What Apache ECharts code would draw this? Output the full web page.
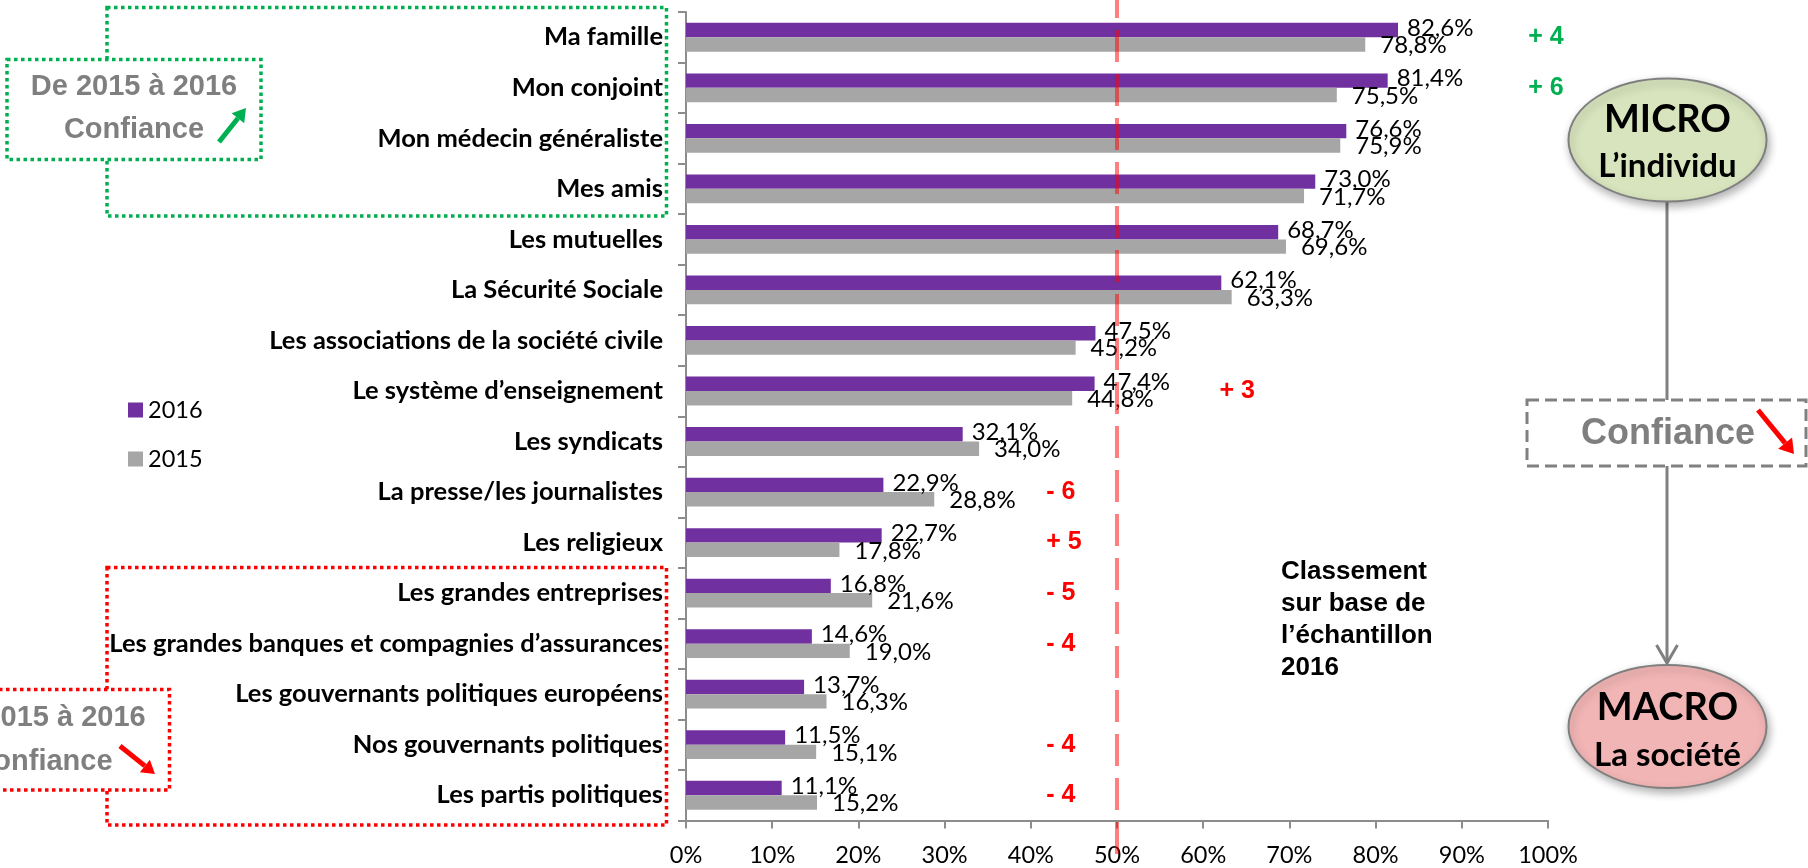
<!DOCTYPE html>
<html>
<head>
<meta charset="utf-8">
<script src="https://cdn.jsdelivr.net/npm/echarts@6/dist/echarts.min.js"></script>
<style>
  html, body { margin: 0; padding: 0; background: #ffffff; }
  #chart { width: 1808px; height: 868px; }
</style>
</head>
<body>
<div id="chart"></div>
<script>
// Confidence in institutions, 2016 vs 2015 (share of respondents, %)
const categories = [
  'Ma famille',
  'Mon conjoint',
  'Mon médecin généraliste',
  'Mes amis',
  'Les mutuelles',
  'La Sécurité Sociale',
  'Les associations de la société civile',
  'Le système d’enseignement',
  'Les syndicats',
  'La presse/les journalistes',
  'Les religieux',
  'Les grandes entreprises',
  'Les grandes banques et compagnies d’assurances',
  'Les gouvernants politiques européens',
  'Nos gouvernants politiques',
  'Les partis politiques'
];
const values2016 = [82.6, 81.4, 76.6, 73.0, 68.7, 62.1, 47.5, 47.4, 32.1, 22.9, 22.7, 16.8, 14.6, 13.7, 11.5, 11.1];
const values2015 = [78.8, 75.5, 75.9, 71.7, 69.6, 63.3, 45.2, 44.8, 34.0, 28.8, 17.8, 21.6, 19.0, 16.3, 15.1, 15.2];
// Change in points between the two waves, shown next to selected rows
const deltaLabels = ['+ 4', '+ 6', '', '', '', '', '', '+ 3', '', '- 6', '+ 5', '- 5', '- 4', '', '- 4', '- 4'];
const seriesNames = ['2016', '2015'];
const axisMax = 100;
const axisStep = 10;
const thresholdValue = 50;

const PURPLE = '#7030a0';
const GREY = '#a6a6a6';
const GREEN = '#00b050';
const RED = '#ff0000';
const LABEL_FONT = 'Lato, "Open Sans", sans-serif';
const ARIAL = '"Liberation Sans", Arial, sans-serif';

const fmt = v => v.toFixed(1).replace('.', ',') + '%';

const chart = echarts.init(document.getElementById('chart'), null, { renderer: 'canvas' });

const option = {
  animation: false,
  backgroundColor: '#ffffff',
  grid: { left: 686, right: 260, top: 12, height: 808.5, containLabel: false },
  legend: {
    orient: 'vertical',
    left: 123,
    top: 393,
    itemWidth: 15,
    itemHeight: 15,
    itemGap: 25,
    icon: 'rect',
    textStyle: { fontFamily: LABEL_FONT, fontSize: 23.5, color: '#000' },
    data: seriesNames
  },
  xAxis: {
    type: 'value',
    min: 0,
    max: axisMax,
    interval: axisStep,
    axisLine: { show: true, lineStyle: { color: '#8c8c8c', width: 2 } },
    axisTick: { show: true, length: 8, lineStyle: { color: '#8c8c8c', width: 2 } },
    splitLine: { show: false },
    axisLabel: {
      formatter: '{value}%',
      fontFamily: LABEL_FONT,
      fontSize: 23.5,
      color: '#000',
      margin: 23
    }
  },
  yAxis: {
    type: 'category',
    inverse: true,
    data: categories,
    axisLine: { show: true, lineStyle: { color: '#8c8c8c', width: 2 } },
    axisTick: { show: true, length: 8, lineStyle: { color: '#8c8c8c', width: 2 } },
    axisLabel: {
      fontFamily: LABEL_FONT,
      fontWeight: 'bold',
      fontSize: 25.5,
      color: '#000',
      margin: 23
    }
  },
  series: [
    {
      name: seriesNames[0],
      type: 'bar',
      data: values2016,
      barGap: '0%',
      barCategoryGap: '43%',
      itemStyle: { color: PURPLE },
      label: {
        show: true,
        position: 'right',
        distance: 9,
        offset: [0, -2],
        formatter: p => fmt(p.value),
        fontFamily: LABEL_FONT,
        fontSize: 24,
        color: '#000'
      }
    },
    {
      name: seriesNames[1],
      type: 'bar',
      data: values2015,
      barGap: '0%',
      barCategoryGap: '43%',
      itemStyle: { color: GREY },
      label: {
        show: true,
        position: 'right',
        distance: 15,
        offset: [0, 1],
        formatter: p => fmt(p.value),
        fontFamily: LABEL_FONT,
        fontSize: 24,
        color: '#000'
      }
    }
  ]
};

chart.setOption(option);

// ---------- decorations drawn on top of the chart ----------
function arrow(x1, y1, x2, y2, color, width, headLen, headHalf, z) {
  const a = Math.atan2(y2 - y1, x2 - x1);
  const bx = x2 - headLen * Math.cos(a);
  const by = y2 - headLen * Math.sin(a);
  const px = -Math.sin(a), py = Math.cos(a);
  return [
    { type: 'line', z: z, shape: { x1: x1, y1: y1, x2: bx, y2: by }, style: { stroke: color, lineWidth: width } },
    { type: 'polygon', z: z, shape: { points: [[x2, y2], [bx + px * headHalf, by + py * headHalf], [bx - px * headHalf, by - py * headHalf]] }, style: { fill: color } }
  ];
}

function text(x, y, str, font, color, align, z) {
  return {
    type: 'text', x: x, y: y, z: z || 20,
    style: { text: str, font: font, fill: color, align: align || 'center', verticalAlign: 'middle' }
  };
}

const dotted = (color) => ({ fill: 'none', stroke: color, lineWidth: 3.5, lineDash: [3.5, 3.5] });

const g = [];

// group boxes around the top and bottom of the ranking
g.push({ type: 'rect', z: 5, shape: { x: 107, y: 7.5, width: 559.5, height: 208.5 }, style: dotted(GREEN) });
g.push({ type: 'rect', z: 6, shape: { x: 7, y: 59.5, width: 254, height: 100 }, style: Object.assign(dotted(GREEN), { fill: '#ffffff' }) });
g.push(text(134, 87, 'De 2015 à 2016', 'bold 29px ' + ARIAL, '#7f7f7f', 'center'));
g.push(text(134, 130, 'Confiance', 'bold 29px ' + ARIAL, '#7f7f7f', 'center'));
arrow(219, 142, 246, 108, GREEN, 5, 13, 8, 20).forEach(e => g.push(e));

g.push({ type: 'rect', z: 5, shape: { x: 107, y: 567.5, width: 559.5, height: 257.5 }, style: dotted(RED) });
g.push({ type: 'rect', z: 6, shape: { x: -85, y: 689.5, width: 254.5, height: 100.5 }, style: Object.assign(dotted(RED), { fill: '#ffffff' }) });
g.push(text(42.5, 718, 'De 2015 à 2016', 'bold 29px ' + ARIAL, '#7f7f7f', 'center'));
g.push(text(42.5, 762, 'Confiance', 'bold 29px ' + ARIAL, '#7f7f7f', 'center'));
arrow(120, 746, 155, 774, RED, 5, 13, 8, 20).forEach(e => g.push(e));

// micro / macro diagram on the right
const shadow = { shadowBlur: 8, shadowOffsetX: 2, shadowOffsetY: 4, shadowColor: 'rgba(0,0,0,0.3)' };
g.push({ type: 'line', z: 5, shape: { x1: 1667, y1: 201, x2: 1667, y2: 400 }, style: { stroke: '#808080', lineWidth: 3 } });
g.push({ type: 'line', z: 5, shape: { x1: 1667, y1: 466, x2: 1667, y2: 662 }, style: { stroke: '#808080', lineWidth: 3 } });
g.push({ type: 'polyline', z: 5, shape: { points: [[1656.5, 645], [1667, 663], [1677.5, 645]] }, style: { stroke: '#808080', lineWidth: 3, fill: 'none' } });

g.push({ type: 'ellipse', z: 8, shape: { cx: 1667.5, cy: 140, rx: 99, ry: 61.5 }, style: Object.assign({ fill: '#d7e4bd', stroke: '#7f7f7f', lineWidth: 2 }, shadow) });
g.push(text(1667.5, 120, 'MICRO', 'bold 38px ' + LABEL_FONT, '#000', 'center'));
g.push(text(1667.5, 166, 'L’individu', 'bold 33px ' + LABEL_FONT, '#000', 'center'));

g.push({ type: 'rect', z: 8, shape: { x: 1527, y: 400, width: 279, height: 66 }, style: { fill: '#ffffff', stroke: '#808080', lineWidth: 3, lineDash: [12, 6] } });
g.push(text(1668, 434, 'Confiance', 'bold 36px ' + ARIAL, '#7f7f7f', 'center'));
arrow(1758, 410, 1794, 454, RED, 5, 14, 9, 20).forEach(e => g.push(e));

g.push({ type: 'ellipse', z: 8, shape: { cx: 1667.5, cy: 726.5, rx: 99, ry: 61.5 }, style: Object.assign({ fill: '#f2b5b5', stroke: '#7f7f7f', lineWidth: 2 }, shadow) });
g.push(text(1667.5, 708, 'MACRO', 'bold 38px ' + LABEL_FONT, '#000', 'center'));
g.push(text(1667.5, 755, 'La société', 'bold 33px ' + LABEL_FONT, '#000', 'center'));

// note on the ranking basis
g.push({
  type: 'text', x: 1281, y: 556, z: 20,
  style: {
    text: 'Classement\nsur base de\nl’échantillon\n2016',
    font: 'bold 26px ' + ARIAL, fill: '#000', lineHeight: 32, align: 'left', verticalAlign: 'top'
  }
});

// 50 % threshold line, crossing the whole plot height
const xMid = chart.convertToPixel({ xAxisIndex: 0 }, thresholdValue);
g.push({
  type: 'line', z: 30,
  shape: { x1: xMid, y1: -14, x2: xMid, y2: 854 },
  style: { stroke: 'rgba(255,0,0,0.5)', lineWidth: 4, lineDash: [32, 12] }
});

// point changes beside the rows
deltaLabels.forEach((d, i) => {
  if (!d) return;
  const y = chart.convertToPixel({ yAxisIndex: 0 }, categories[i]);
  const colour = i < 4 ? GREEN : RED;
  const xVal = i < 4 ? 97.7 : (i === 7 ? 61.9 : 41.8);
  const x = chart.convertToPixel({ xAxisIndex: 0 }, xVal);
  g.push(text(x, y, d, 'bold 25px ' + ARIAL, colour, 'left'));
});

chart.setOption({ graphic: g });
</script>
</body>
</html>
